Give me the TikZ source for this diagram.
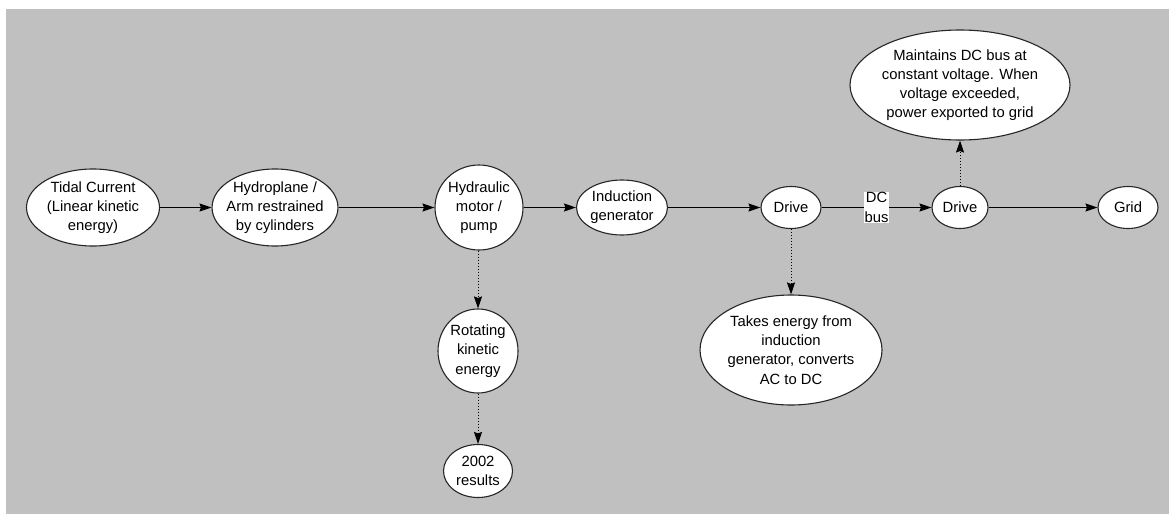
\documentclass[tikz,border=0pt]{standalone}
\usepackage{fontspec}
\setmainfont{Liberation Sans}
\usetikzlibrary{shapes.geometric,arrows.meta}
\definecolor{bggray}{RGB}{192,192,192}
\begin{document}
\begin{tikzpicture}[x=1pt,y=-1pt,
  txt/.style={font=\fontsize{14.8}{19.2}\selectfont},
  ell/.style={ellipse, draw=black!85, line width=1.1pt, fill=white, align=center, inner sep=-4pt, txt},
  flow/.style={line width=1.1pt, -{Stealth[length=12pt,width=8pt,inset=1.5pt]}},
  dotflow/.style={flow, line width=0.9pt, dash pattern=on 1.2pt off 1.8pt}]
\useasboundingbox (0,0) rectangle (1169,514);
\fill[white] (0,0) rectangle (1169,514);
\fill[bggray] (6,9) rectangle (1169,514);

\node[ell, minimum width=133pt, minimum height=77pt] (tidal) at (93,207.5) {Tidal Current\\(Linear kinetic\\energy)};
\node[ell, minimum width=125pt, minimum height=77pt] (hydro) at (275,207.5) {Hydroplane /\\Arm restrained\\by cylinders};
\node[ell, minimum width=88pt, minimum height=85pt] (motor) at (479,207.5) {Hydraulic\\motor /\\pump};
\node[ell, minimum width=91pt, minimum height=55pt] (induct) at (622,207.5) {Induction\\generator};
\node[ell, minimum width=60pt, minimum height=42pt] (drive1) at (791,207.5) {Drive};
\node[ell, minimum width=56pt, minimum height=42pt] (drive2) at (960,207.5) {Drive};
\node[ell, minimum width=60pt, minimum height=42pt] (grid) at (1128,207.5) {Grid};
\node[ell, minimum width=220pt, minimum height=110pt] (maint) at (960,85) {Maintains DC bus at\\constant voltage. When\\voltage exceeded,\\power exported to grid};
\node[ell, minimum width=182pt, minimum height=110pt] (takes) at (791,350) {Takes energy from\\induction\\generator, converts\\AC to DC};
\node[ell, minimum width=80pt, minimum height=84pt] (rot) at (478,351) {Rotating\\kinetic\\energy};
\node[ell, minimum width=69pt, minimum height=53pt] (res) at (478,471) {2002\\results};

\draw[flow] (tidal) -- (hydro);
\draw[flow] (hydro) -- (motor);
\draw[flow] (motor) -- (induct);
\draw[flow] (induct) -- (drive1);
\draw[flow] (drive1) -- node[fill=white, inner sep=1pt, align=center, txt] (dcbus) {DC\\bus} (drive2);
\draw[flow] (drive2) -- (grid);
\draw[dotflow] (drive2) -- (maint);
\draw[dotflow] (drive1) -- (takes);
\draw[dotflow] (motor.south -| rot.north) -- (rot);
\draw[dotflow] (rot) -- (res);
\end{tikzpicture}
\end{document}
